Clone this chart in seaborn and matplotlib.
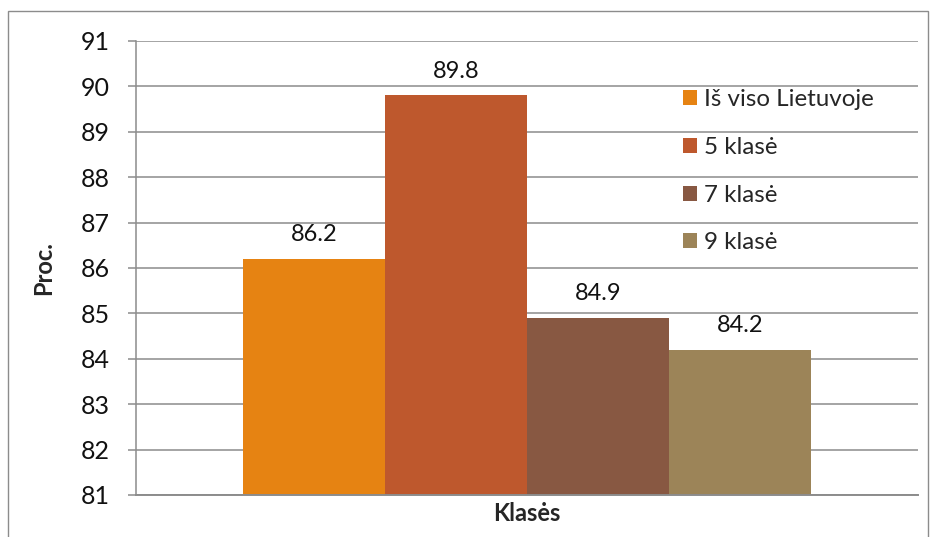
import pandas as pd
import seaborn as sns
import matplotlib.pyplot as plt
from matplotlib.patches import Rectangle

# data
category = ['Klasės']
series = ['Iš viso Lietuvoje', '5 klasė', '7 klasė', '9 klasė']
values = [86.2, 89.8, 84.9, 84.2]
colors = ['#E68312', '#BE582D', '#885842', '#9C8458']
yticks = [81, 82, 83, 84, 85, 86, 87, 88, 89, 90, 91]


def main():
    sns.set_theme(style='white')
    plt.rcParams['font.family'] = ['Lato', 'DejaVu Sans']

    df = pd.DataFrame({
        'group': category * len(series),
        'series': series,
        'value': values,
    })

    fig = plt.figure(figsize=(9.3, 5.37), dpi=100)
    ax = fig.add_axes([136 / 930, 1 - 495 / 537, (918 - 136) / 930, (495 - 41) / 537])

    sns.barplot(data=df, x='group', y='value', hue='series', palette=colors,
                width=0.726, saturation=1, ax=ax, linewidth=0, errorbar=None)

    ax.set_ylim(81, 91)
    ax.set_xlim(-0.5, 0.5)
    ax.set_yticks(yticks)
    ax.set_yticklabels([str(t) for t in yticks], fontsize=18, color='#111111')
    ax.set_xticks([])
    ax.yaxis.grid(True, color='#8c8c8c', linewidth=1.1)
    ax.set_axisbelow(True)

    ax.tick_params(axis='y', left=True, length=6, width=1.1, color='#8c8c8c', pad=13)
    for side in ['top', 'right']:
        ax.spines[side].set_visible(False)
    ax.spines['left'].set_color('#8c8c8c')
    ax.spines['bottom'].set_color('#8c8c8c')
    ax.spines['left'].set_linewidth(1.1)
    ax.spines['bottom'].set_linewidth(1.4)

    for container in ax.containers:
        ax.bar_label(container, fmt='%.1f', padding=10, fontsize=17, color='#111111')

    ax.set_ylabel('Proc.', fontsize=17, fontweight='bold')
    ax.yaxis.set_label_coords(-0.104, 0.5)
    ax.set_xlabel('Klasės', fontsize=17, fontweight='bold', labelpad=5)

    handles, labels = ax.get_legend_handles_labels()
    ax.legend(handles, labels, loc='upper left', bbox_to_anchor=((683 - 136) / 782, 1 - (89 - 41) / 454),
              frameon=False, fontsize=17.4, labelspacing=1.11, handlelength=0.58,
              handleheight=0.58, handletextpad=0.3, borderaxespad=0, borderpad=0)

    fig.patches.append(Rectangle((8 / 930, -0.01), 920 / 930, 1 - 11 / 537 + 0.01,
                                 transform=fig.transFigure, fill=False,
                                 edgecolor='#8c8c8c', linewidth=1.0))

    plt.savefig('out.png', dpi=100)


if __name__ == '__main__':
    main()
